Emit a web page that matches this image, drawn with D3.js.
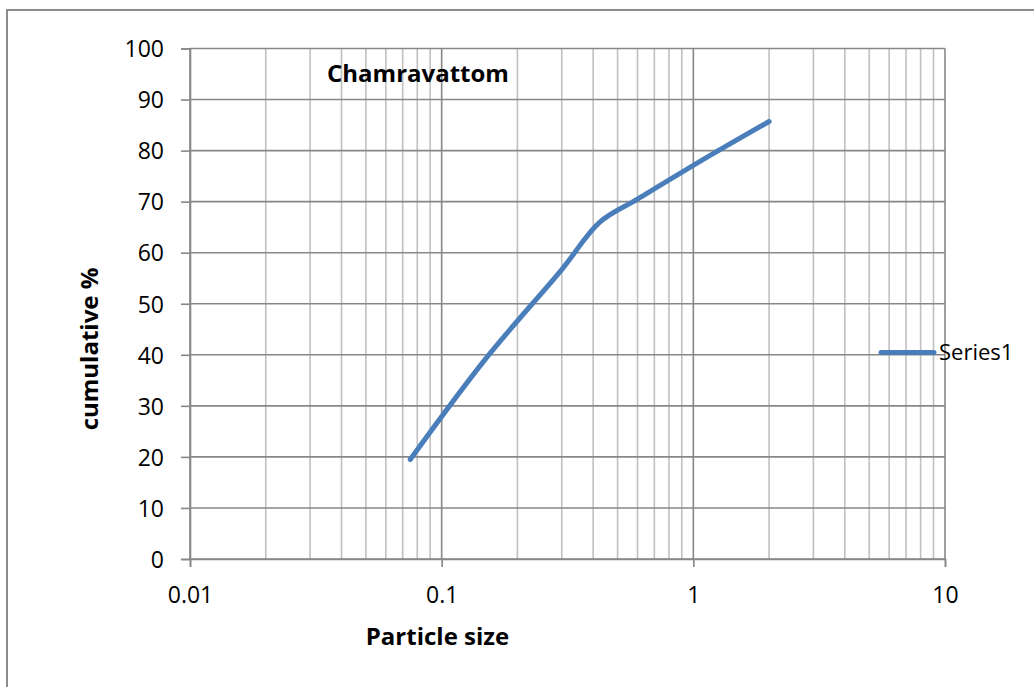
<!DOCTYPE html>
<html>
<head>
<meta charset="utf-8">
<script src="https://cdn.jsdelivr.net/npm/d3@7"></script>
<style>
  body { margin: 0; background: #fff; }
  svg { display: block; font-family: "Open Sans", "Noto Sans", sans-serif; }
</style>
</head>
<body>
<svg id="graph" width="1034" height="687"></svg>
<script>
// sieve data
var sizes = [0.075, 0.15, 0.3, 0.425, 0.6, 1.18, 2];
var cumulative = [19.5, 39.3, 56.7, 66.0, 70.5, 79.2, 85.7];
var xTickValues = [0.01, 0.1, 1, 10];
var xTickLabels = ["0.01", "0.1", "1", "10"];
var yTickValues = [0, 10, 20, 30, 40, 50, 60, 70, 80, 90, 100];
var seriesName = "Series1";
var chartTitle = "Chamravattom";

var svg = d3.select("#graph");
var plotLeft = 190, plotRight = 945, plotTop = 48.5, plotBottom = 559;

var x = d3.scaleLog().domain([0.01, 10]).range([plotLeft, plotRight]);
var y = d3.scaleLinear().domain([0, 100]).range([plotBottom, plotTop]);

// outer chart border
svg.append("rect")
    .attr("x", 7).attr("y", 10)
    .attr("width", 1060).attr("height", 700)
    .attr("fill", "none")
    .attr("stroke", "#8c8c8c")
    .attr("stroke-width", 2);

// vertical grid (minor + major)
var allX = x.ticks();
svg.append("g").selectAll("line")
    .data(allX)
    .enter()
    .append("line")
    .attr("x1", function(d) { return x(d); })
    .attr("x2", function(d) { return x(d); })
    .attr("y1", plotTop)
    .attr("y2", plotBottom)
    .attr("stroke", function(d) {
        var l = Math.log10(d);
        return Math.abs(l - Math.round(l)) < 1e-9 ? "#878787" : "#c0c0c0";
    })
    .attr("stroke-width", 1.6);

// horizontal grid
svg.append("g").selectAll("line")
    .data(yTickValues)
    .enter()
    .append("line")
    .attr("x1", plotLeft)
    .attr("x2", plotRight)
    .attr("y1", function(d) { return y(d); })
    .attr("y2", function(d) { return y(d); })
    .attr("stroke", "#878787")
    .attr("stroke-width", 1.6);

// axes
var yAxis = svg.append("g")
    .attr("transform", "translate(" + plotLeft + ",0)")
    .call(d3.axisLeft(y).tickValues(yTickValues).tickSize(9).tickPadding(17));

var xAxis = svg.append("g")
    .attr("transform", "translate(0," + plotBottom + ")")
    .call(d3.axisBottom(x).tickValues(xTickValues).tickSize(8).tickPadding(20)
        .tickFormat(function(d, i) { return xTickLabels[i]; }));

[yAxis, xAxis].forEach(function(g) {
    g.attr("font-size", null).attr("font-family", null);
    g.select(".domain").attr("stroke", "#878787").attr("stroke-width", 1.6);
    g.selectAll(".tick line").attr("stroke", "#878787").attr("stroke-width", 1.6);
    g.selectAll("text")
        .attr("fill", "#000")
        .style("font-size", "23px");
});
yAxis.selectAll("text").attr("dy", "0.36em");

// series line
var pts = sizes.map(function(d, i) { return [d, cumulative[i]]; });
var line = d3.line()
    .x(function(d) { return x(d[0]); })
    .y(function(d) { return y(d[1]); })
    .curve(d3.curveCatmullRom.alpha(0.5));

svg.append("path")
    .datum(pts)
    .attr("d", line)
    .attr("fill", "none")
    .attr("stroke", "#4a7ebb")
    .attr("stroke-width", 5)
    .attr("stroke-linecap", "round")
    .attr("stroke-linejoin", "round");

// titles
svg.append("text")
    .attr("x", 327).attr("y", 82)
    .style("font-size", "24px").style("font-weight", "bold")
    .text(chartTitle);

svg.append("text")
    .attr("x", 437.5).attr("y", 645)
    .attr("text-anchor", "middle")
    .style("font-size", "24px").style("font-weight", "bold")
    .text("Particle size");

svg.append("text")
    .attr("transform", "translate(98,349) rotate(-90)")
    .attr("text-anchor", "middle")
    .style("font-size", "24px").style("font-weight", "bold")
    .text("cumulative %");

// legend
var lg = svg.append("g");
lg.append("line")
    .attr("x1", 881).attr("x2", 934)
    .attr("y1", 352.5).attr("y2", 352.5)
    .attr("stroke", "#4a7ebb")
    .attr("stroke-width", 5)
    .attr("stroke-linecap", "round");
lg.append("text")
    .attr("x", 939).attr("y", 360)
    .style("font-size", "22px")
    .text(seriesName);
</script>
</body>
</html>
